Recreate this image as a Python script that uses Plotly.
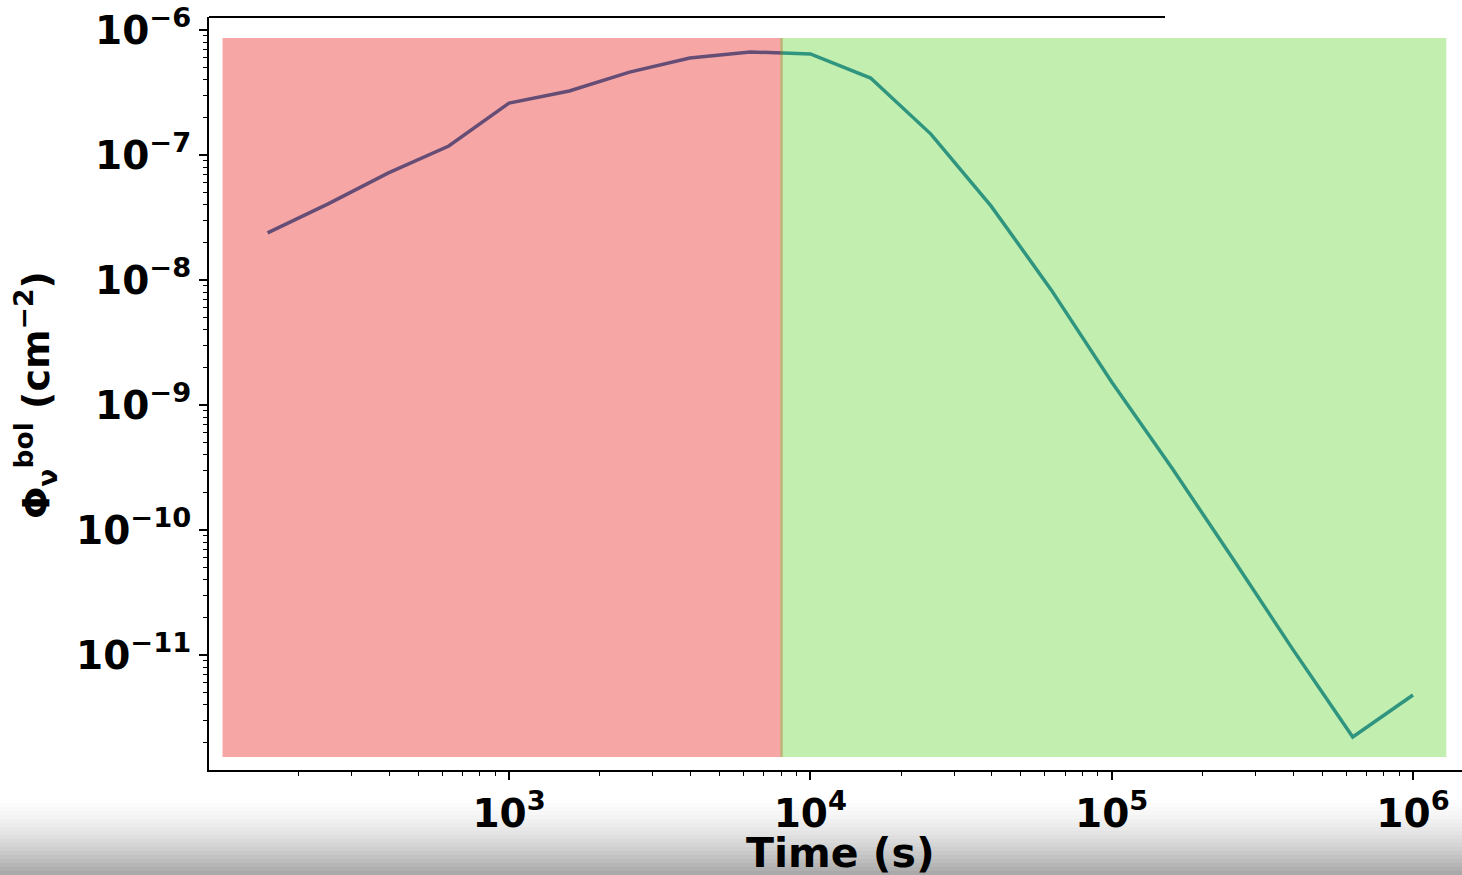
import plotly.graph_objects as go

# ---- data ----
time_s = [158, 251, 398, 631, 1000, 1585, 2512, 3981, 6310,
          10000, 15849, 25119, 39811, 63096, 100000, 158489, 251189,
          398107, 630957, 1000000]
flux = [2.38e-8, 4.06e-8, 7.2e-8, 1.18e-7, 2.6e-7, 3.25e-7, 4.6e-7, 5.97e-7, 6.67e-7,
        6.43e-7, 4.13e-7, 1.47e-7, 3.9e-8, 8.3e-9, 1.53e-9, 3.13e-10, 6.0e-11,
        1.12e-11, 2.21e-12, 4.79e-12]

red_span = [112, 8100]
green_span = [7950, 1.29e6]
span_y = [1.53e-12, 8.63e-7]

x_tickvals = [1e3, 1e4, 1e5, 1e6]
x_ticktext = ["10<sup>3</sup>", "10<sup>4</sup>", "10<sup>5</sup>", "10<sup>6</sup>"]
y_tickvals = [1e-11, 1e-10, 1e-9, 1e-8, 1e-7, 1e-6]
y_ticktext = ["10<sup>−11</sup>", "10<sup>−10</sup>", "10<sup>−9</sup>",
              "10<sup>−8</sup>", "10<sup>−7</sup>", "10<sup>−6</sup>"]

FONT = "DejaVu Sans"
W, H = 1462, 875
L, R, T, B = 209, 0, 17, 105
plot_w = W - L - R
plot_h = H - T - B

fig = go.Figure()
fig.add_trace(go.Scatter(x=time_s, y=flux, mode="lines",
                         line=dict(color="#1f77b4", width=3.5), showlegend=False))

shapes = []
shapes.append(dict(type="rect", xref="x", yref="y", x0=red_span[0], x1=red_span[1],
                   y0=span_y[0], y1=span_y[1], fillcolor="rgba(232,0,0,0.35)",
                   line=dict(width=0), layer="above"))
shapes.append(dict(type="rect", xref="x", yref="y", x0=green_span[0], x1=green_span[1],
                   y0=span_y[0], y1=span_y[1], fillcolor="rgba(81,206,29,0.35)",
                   line=dict(width=0), layer="above"))
# top spine (cropped)
shapes.append(dict(type="line", xref="paper", yref="paper", x0=0, x1=(1165 - L) / plot_w,
                   y0=1, y1=1, line=dict(color="black", width=2), layer="above"))

# bottom gray gradient (screenshot shading)
n_bands = 20
g_top, g_bot = 795, H
for i in range(n_bands):
    p0 = g_top + (g_bot - g_top) * i / n_bands
    p1 = g_top + (g_bot - g_top) * (i + 1) / n_bands + 0.5
    t = (i + 0.5) / n_bands
    g = int(round(255 - 90 * t ** 1.6))
    shapes.append(dict(type="rect", xref="paper", yref="paper", x0=-L / plot_w, x1=1.0,
                       y0=(H - B - p1) / plot_h, y1=(H - B - p0) / plot_h,
                       fillcolor=f"rgb({g},{g},{g})", line=dict(width=0), layer="below"))

tickfont = dict(family=FONT, size=39, color="black", weight="bold")

fig.update_layout(
    width=W, height=H,
    margin=dict(l=L, r=R, t=T, b=B, autoexpand=False),
    paper_bgcolor="white", plot_bgcolor="white",
    shapes=shapes,
    xaxis=dict(type="log", range=[2.0043, 6.1626], showgrid=False, zeroline=False,
               showline=True, linecolor="black", linewidth=2, mirror=False,
               tickmode="array", tickvals=x_tickvals, ticktext=x_ticktext,
               ticks="outside", ticklen=8, tickwidth=1.5, tickcolor="black",
               tickfont=tickfont,
               minor=dict(ticks="outside", ticklen=4, tickwidth=1, tickcolor="black",
                          dtick="D1", showgrid=False)),
    yaxis=dict(type="log", range=[-11.92, -5.896], showgrid=False, zeroline=False,
               showline=True, linecolor="black", linewidth=2, mirror=False,
               tickmode="array", tickvals=y_tickvals, ticktext=y_ticktext,
               ticks="outside", ticklen=8, tickwidth=1.5, tickcolor="black",
               tickfont=tickfont,
               minor=dict(ticks="outside", ticklen=4, tickwidth=1, tickcolor="black",
                          dtick="D1", showgrid=False)),
    annotations=[
        dict(text="<b>Time (s)</b>", xref="paper", yref="paper",
             x=(840 - L) / plot_w, y=(H - B - 853) / plot_h, xanchor="center", yanchor="middle",
             showarrow=False, font=dict(family=FONT, size=41, color="black")),
        dict(text="<b>Φ<sub>ν</sub><sup>bol</sup> (cm<sup>−2</sup>)</b>", xref="paper", yref="paper",
             x=(35 - L) / plot_w, y=(H - B - 395) / plot_h, xanchor="center", yanchor="middle",
             textangle=-90, showarrow=False, font=dict(family=FONT, size=38, color="black")),
    ],
)

fig.write_html("out.html")
